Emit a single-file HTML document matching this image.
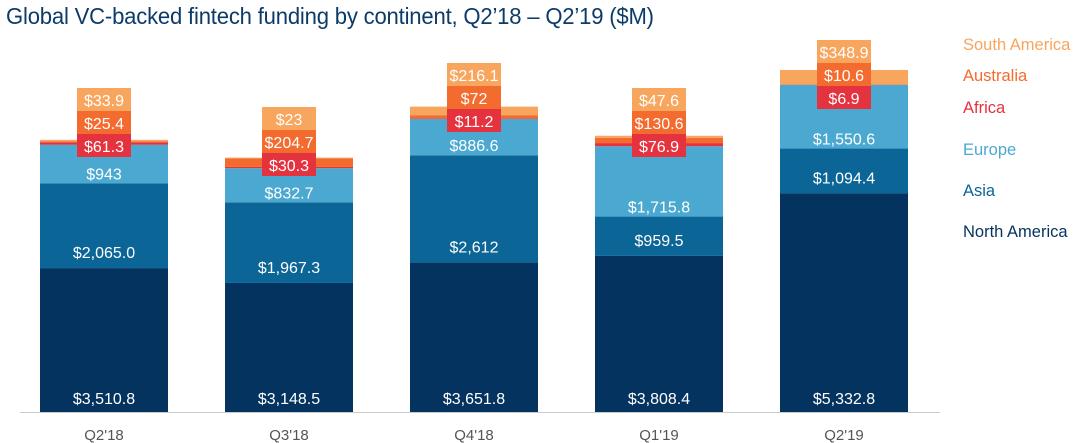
<!DOCTYPE html>
<html><head><meta charset="utf-8"><style>
body{margin:0;background:#fff;font-family:"Liberation Sans",sans-serif}
#title{position:absolute;left:6px;top:3px;font-size:23px;color:#0d3b68;letter-spacing:-0.2px;transform:scaleX(0.96);transform-origin:left;white-space:nowrap}
</style></head><body>
<div id="title">Global VC-backed fintech funding by continent, Q2’18 – Q2’19 ($M)</div>
<svg id="chart" width="1080" height="443" style="position:absolute;left:0;top:0"></svg>
<script>
const categories=["Q2'18","Q3'18","Q4'18","Q1'19","Q2'19"];
const northAmerica=[3510.8,3148.5,3651.8,3808.4,5332.8];
const asia=[2065.0,1967.3,2612,959.5,1094.4];
const europe=[943,832.7,886.6,1715.8,1550.6];
const africa=[61.3,30.3,11.2,76.9,6.9];
const australia=[25.4,204.7,72,130.6,10.6];
const southAmerica=[33.9,23,216.1,47.6,348.9];
const labels={na:["$3,510.8","$3,148.5","$3,651.8","$3,808.4","$5,332.8"],as:["$2,065.0","$1,967.3","$2,612","$959.5","$1,094.4"],eu:["$943","$832.7","$886.6","$1,715.8","$1,550.6"],af:["$61.3","$30.3","$11.2","$76.9","$6.9"],au:["$25.4","$204.7","$72","$130.6","$10.6"],sa:["$33.9","$23","$216.1","$47.6","$348.9"]};
const series=[
 {name:"North America",vals:northAmerica,col:"#04335f",key:"na"},
 {name:"Asia",vals:asia,col:"#0b6597",key:"as"},
 {name:"Europe",vals:europe,col:"#4ba9d1",key:"eu"},
 {name:"Africa",vals:africa,col:"#e5323f",key:"af"},
 {name:"Australia",vals:australia,col:"#f46b2f",key:"au"},
 {name:"South America",vals:southAmerica,col:"#f8a55e",key:"sa"}];
const NS="http://www.w3.org/2000/svg";
const svg=document.getElementById('chart');
const base=412,scale=342/8343.6,bw=128;
const boxTop=[88,107,63,88,40];
const labelOff={na:8,as:10,eu:4};
const x=i=>104+i*185;
const y=v=>base-v*scale;
function el(t,a,p){const e=document.createElementNS(NS,t);for(const k in a)e.setAttribute(k,a[k]);(p||svg).appendChild(e);return e;}
function txt(s,xx,yy,col,size,anchor){const t=el('text',{x:xx,y:yy,fill:col,'font-size':size,'text-anchor':anchor||'middle','font-family':'Liberation Sans, sans-serif'});t.textContent=s;return t;}
el('line',{x1:20,x2:940,y1:base+0.5,y2:base+0.5,stroke:'#ccc'});
categories.forEach((c,i)=>{
 let cum=0;
 const segTop={};
 series.forEach(s=>{
  const v=s.vals[i];const y0=y(cum),y1=y(cum+v);
  const r=el('rect',{x:x(i)-bw/2,y:y1,width:bw,height:y0-y1,fill:s.col});
  
  
  segTop[s.key]=[y0,y1];cum+=v;
 });
 ['na','as','eu'].forEach(k=>{
  const [y0,y1]=segTop[k];
  const t=txt(labels[k][i],x(i),y0-labelOff[k],'#fff',16);
  
  
 });
 [['sa','#f8a55e'],['au','#f46b2f'],['af','#e5323f']].forEach(([k,col],j)=>{
  const by=boxTop[i]+23*j;
  const r=el('rect',{x:x(i)-27,y:by,width:54,height:23,fill:col});
  
  
  const t=txt(labels[k][i],x(i),by+18,'#fff',16);
  
  
 });
 const t=txt(c,x(i),440,'#555',15);
 
 
});
const legY=[237,196,155,113,81,50];
series.forEach((s,j)=>{
 const t=txt(s.name,963,legY[j],s.col,16.5,'start');
 
 
});
</script>
</body></html>
